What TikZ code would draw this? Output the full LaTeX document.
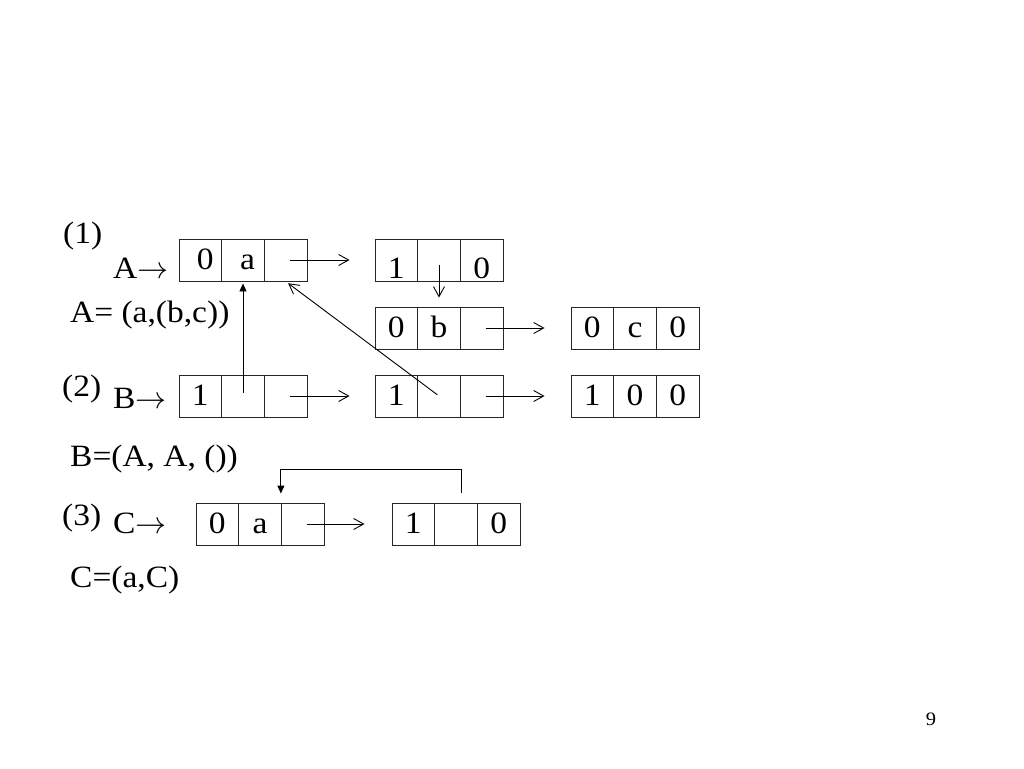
\documentclass[tikz,border=0pt]{standalone}
\usepackage{graphicx}
\usepackage{fontspec}
\setmainfont{Liberation Serif}[FakeStretch=1.08]
\usetikzlibrary{arrows.meta}
\tikzset{
  cell/.style={draw=black!85, line width=0.9pt, minimum width=42.67pt, minimum height=42pt,
    inner sep=0pt, text height=18pt, text depth=0pt, font=\fontsize{31}{36}\selectfont},
  lbl/.style={anchor=base west, inner sep=0pt, font=\fontsize{31}{36}\selectfont},
  thinarr/.style={-{Straight Barb[length=10pt,width=11pt]}, line width=0.9pt},
  fillarr/.style={-{Triangle[length=8pt,width=7pt]}, line width=0.9pt}
}
\newcommand{\rec}[7][]{%
  \node[cell,#1] (#2a) at ({#3+21.33},#4) {#5};
  \node[cell,#1] (#2b) at ({#3+64},#4) {#6};
  \node[cell,#1] (#2c) at ({#3+106.67},#4) {#7};}
\newcommand{\rarr}{\scalebox{3.1}{\normalsize$\rightarrow$}}
\begin{document}
\begin{tikzpicture}[x=1pt,y=-1pt]
\useasboundingbox (0,0) rectangle (1024,768);
% records
\rec{A}{179}{260}{\hspace{10pt}0}{\hspace{9pt}a}{}
\rec[text height=36pt]{P}{375}{260}{1}{}{0}
\rec{Q}{375}{328}{0}{b}{}
\rec{R}{571}{328}{0}{c}{0}
\rec{B}{179}{396}{1}{}{}
\rec{S}{375}{396}{1}{}{}
\rec{T}{571}{396}{1}{0}{0}
\rec{C}{196}{524}{0}{a}{}
\rec{D}{392}{524}{1}{}{0}
% labels
\node[lbl] (l1) at (63,243) {(1)};
\node[lbl] (la) at (113,278) {A\rarr};
\node[lbl] (ea) at (70,322) {A= (a,(b,c))};
\node[lbl] (l2) at (62,396) {(2)};
\node[lbl] (lb) at (113,408) {B\rarr};
\node[lbl] (eb) at (70,466) {B=(A, A, ())};
\node[lbl] (l3) at (62,525) {(3)};
\node[lbl] (lc) at (113,533) {C\rarr};
\node[lbl] (ec) at (70,587) {C=(a,C)};
\node[anchor=base, inner sep=0pt, font=\fontsize{19}{22}\selectfont] (pg) at (931,725) {9};
% connectors
\draw[thinarr, shorten <=4pt, shorten >=25pt] (Ac.center) -- (Pa.west);
\draw[thinarr, shorten <=5pt, shorten >=9pt] (Pb.center) -- (Qb.north);
\draw[thinarr, shorten <=4pt, shorten >=26pt] (Qc.center) -- (Ra.west);
\draw[thinarr, shorten <=4pt, shorten >=25pt] (Bc.center) -- (Sa.west);
\draw[thinarr, shorten <=4pt, shorten >=26pt] (Sc.center) -- (Ta.west);
\draw[thinarr, shorten <=4pt, shorten >=27pt] (Cc.center) -- (Da.west);
\draw[fillarr, shorten <=3pt, shorten >=2pt] (Bb.center) -- (Ab.south);
\draw[thinarr, shorten <=2pt, shorten >=3pt] (Sb.center) -- (Ac.south);
\coordinate (loopstart) at (461,493);
\draw[fillarr, shorten >=9pt] (loopstart) -- ++(0,-24) -| (Cc.north west);
\end{tikzpicture}
\end{document}
